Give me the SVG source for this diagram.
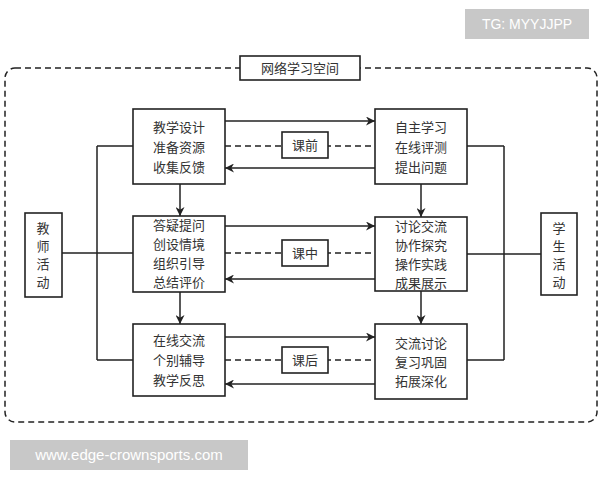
<svg xmlns="http://www.w3.org/2000/svg" width="600" height="480" viewBox="0 0 600 480">
<style>
.b{fill:#fff;stroke:#222;stroke-width:1.6}
.l{fill:none;stroke:#222;stroke-width:1.5}
.d{fill:none;stroke:#222;stroke-width:1.5;stroke-dasharray:6 4}
text{font-family:"Noto Sans CJK SC",sans-serif;font-size:13px;fill:#333;text-anchor:middle}
</style>
<defs><marker id="a" viewBox="0 0 10 10" refX="10" refY="5" markerWidth="9" markerHeight="9" markerUnits="userSpaceOnUse" orient="auto"><path d="M0,0L10,5L0,10L3,5z" fill="#222"/></marker></defs>
<rect width="600" height="480" fill="#fff"/>
<rect x="5" y="68" width="592" height="354" rx="10" class="d"/>
<g id="connectors">
<path class="l" marker-end="url(#a)" d="M225,121H375"/>
<path class="l" marker-end="url(#a)" d="M225,226H375"/>
<path class="l" marker-end="url(#a)" d="M225,337H375"/>
<path class="l" marker-end="url(#a)" d="M375,168H225"/>
<path class="l" marker-end="url(#a)" d="M375,279H225"/>
<path class="l" marker-end="url(#a)" d="M375,384H225"/>
<path class="d" d="M225,146H375M225,253H375M225,360H375"/>
<path class="l" marker-end="url(#a)" d="M180,184V216"/>
<path class="l" marker-end="url(#a)" d="M180,292V324"/>
<path class="l" marker-end="url(#a)" d="M421,184V217"/>
<path class="l" marker-end="url(#a)" d="M421,291V324"/>
<path class="l" d="M97,146V360M97,146H133M62,253H133M97,360H133"/>
<path class="l" d="M504,146V360M467,146H504M467,254H541M467,360H504"/>
</g>
<g id="title"><rect x="240" y="56" width="120" height="24" class="b"/><text x="300" y="73">网络学习空间</text></g>
<g id="t1"><rect x="133" y="109" width="92" height="75" class="b"/><text x="179" y="132">教学设计</text><text x="179" y="152">准备资源</text><text x="179" y="172">收集反馈</text></g>
<g id="t2"><rect x="133" y="216" width="92" height="76" class="b"/><text x="179" y="230">答疑提问</text><text x="179" y="249">创设情境</text><text x="179" y="268">组织引导</text><text x="179" y="287">总结评价</text></g>
<g id="t3"><rect x="133" y="324" width="92" height="72" class="b"/><text x="179" y="345">在线交流</text><text x="179" y="365">个别辅导</text><text x="179" y="385">教学反思</text></g>
<g id="s1"><rect x="375" y="109" width="92" height="75" class="b"/><text x="421" y="132">自主学习</text><text x="421" y="152">在线评测</text><text x="421" y="172">提出问题</text></g>
<g id="s2"><rect x="375" y="217" width="92" height="74" class="b"/><text x="421" y="231">讨论交流</text><text x="421" y="250">协作探究</text><text x="421" y="269">操作实践</text><text x="421" y="288">成果展示</text></g>
<g id="s3"><rect x="375" y="324" width="92" height="75" class="b"/><text x="421" y="348">交流讨论</text><text x="421" y="367">复习巩固</text><text x="421" y="386">拓展深化</text></g>
<g id="k1"><rect x="282" y="132" width="46" height="26" class="b"/><text x="305" y="150">课前</text></g>
<g id="k2"><rect x="282" y="240" width="46" height="26" class="b"/><text x="305" y="258">课中</text></g>
<g id="k3"><rect x="282" y="347" width="46" height="26" class="b"/><text x="305" y="365">课后</text></g>
<g id="teacher"><rect x="25" y="213" width="37" height="84" class="b"/><text x="43" y="233">教</text><text x="43" y="251">师</text><text x="43" y="269">活</text><text x="43" y="287">动</text></g>
<g id="student"><rect x="541" y="213" width="36" height="82" class="b"/><text x="559" y="233">学</text><text x="559" y="251">生</text><text x="559" y="269">活</text><text x="559" y="287">动</text></g>
<g id="wm1"><rect x="465" y="9" width="124" height="30" fill="#c8c8c8"/><text x="527" y="29" style="font-family:'Liberation Sans',sans-serif;font-size:14px;fill:#fff">TG: MYYJJPP</text></g>
<g id="wm2"><rect x="10" y="440" width="238" height="30" fill="#c8c8c8"/><text x="129" y="460" style="font-family:'Liberation Sans',sans-serif;font-size:15px;fill:#fff">www.edge-crownsports.com</text></g>
</svg>
